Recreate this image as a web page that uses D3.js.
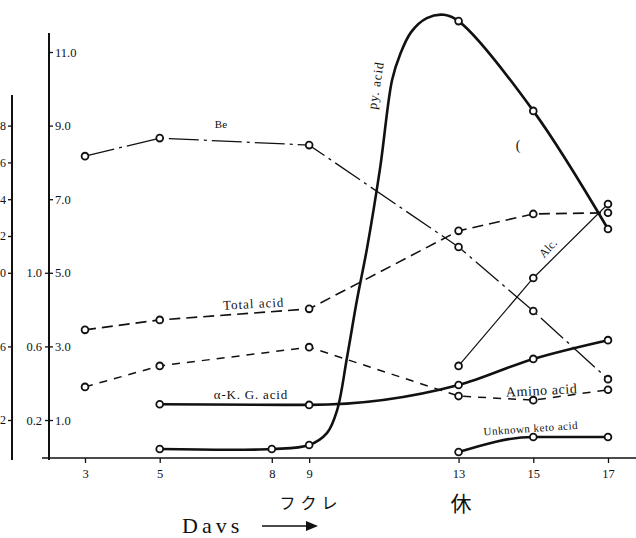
<!DOCTYPE html>
<html>
<head>
<meta charset="utf-8">
<script src="https://cdn.jsdelivr.net/npm/d3@7"></script>
<style>
  body { margin: 0; background: #fff; }
  svg { display: block; font-family: "Liberation Serif", "DejaVu Serif", serif; }
</style>
</head>
<body>
<svg id="chart" width="636" height="538"></svg>
<script>
// days sampled
var days = [3, 5, 8, 9, 13, 15, 17];

// values, in units of the right-hand (inner) scale
var beData = [[3, 8.17], [5, 8.66], [9, 8.47], [13, 5.70], [15, 3.96], [17, 2.11]];
var totalAcid = [[3, 3.45], [5, 3.72], [9, 4.02], [13, 6.14], [15, 6.60], [17, 6.63]];
var aminoAcid = [[3, 1.90], [5, 2.47], [9, 2.98], [13, 1.65], [15, 1.54], [17, 1.82]];
var akgAcid = [[5, 1.43], [9, 1.41], [13, 1.95], [15, 2.66], [17, 3.17]];
var pyrAcid = [[5, 0.21], [8, 0.21], [9, 0.32], [13, 11.84], [15, 9.40], [17, 6.19]];
// where the hand-drawn pyr. curve runs between day 9 and day 13 (no samples)
var pyrDrawn = [[9.48, 0.65], [9.75, 1.27], [10.01, 2.68], [10.28, 4.26], [10.55, 5.67],
  [10.9, 7.85], [11.22, 10.24], [11.43, 10.92], [11.73, 11.54], [12.15, 11.92], [12.61, 12.01]];
var alcData = [[13, 2.47], [15, 4.86], [17, 6.87]];
var unknownKeto = [[13, 0.13], [15, 0.54], [17, 0.54]];

// axis tick labels
var innerRightTicks = [1, 3, 5, 7, 9, 11];
var innerLeftTicks = [1.0, 0.6, 0.2];
var outerTicks = [1.8, 1.6, 1.4, 1.2, 1.0, 0.6, 0.2];

(function () {
  var svg = d3.select("#chart");
  var ink = "#111";

  var x = d3.scaleLinear().domain([3, 17]).range([85, 608]);
  var y = d3.scaleLinear().domain([1, 11]).range([420, 52]);
  var yLeft = d3.scaleLinear().domain([0.2, 2.2]).range([420, 52]);
  var baseY = 458;

  function styleAxis(g, size) {
    g.select(".domain").remove();
    g.selectAll("line").attr("stroke", ink).attr("stroke-width", 1.3);
    g.selectAll("text")
      .attr("fill", ink)
      .style("font-family", "Liberation Serif")
      .style("font-size", size + "px");
  }

  // outer axis (its labels run off the page edge, as in the scan)
  svg.append("line")
    .attr("x1", 12).attr("x2", 12).attr("y1", 95).attr("y2", baseY + 2)
    .attr("stroke", ink).attr("stroke-width", 2);
  svg.append("g")
    .attr("transform", "translate(12,0)")
    .call(d3.axisLeft(yLeft).tickValues(outerTicks).tickSize(4).tickPadding(2)
      .tickFormat(d3.format(".1f")))
    .call(styleAxis, 12);

  // inner axis
  svg.append("line")
    .attr("x1", 49).attr("x2", 49).attr("y1", 33).attr("y2", baseY + 2)
    .attr("stroke", ink).attr("stroke-width", 2);
  svg.append("g")
    .attr("transform", "translate(49,0)")
    .call(d3.axisRight(y).tickValues(innerRightTicks).tickSize(4).tickPadding(2)
      .tickFormat(d3.format(".1f")))
    .call(styleAxis, 12.5);
  svg.append("g")
    .attr("transform", "translate(49,0)")
    .call(d3.axisLeft(yLeft).tickValues(innerLeftTicks).tickSize(4).tickPadding(3)
      .tickFormat(d3.format(".1f")))
    .call(styleAxis, 12.5);

  // day axis
  svg.append("line")
    .attr("x1", 42).attr("x2", 636).attr("y1", baseY).attr("y2", baseY)
    .attr("stroke", ink).attr("stroke-width", 1.6);
  svg.append("g")
    .attr("transform", "translate(0," + baseY + ")")
    .call(d3.axisBottom(x).tickValues(days).tickSize(5).tickPadding(6)
      .tickFormat(d3.format("d")))
    .call(styleAxis, 12.5);

  // series
  var straight = d3.line().x(function (d) { return x(d[0]); }).y(function (d) { return y(d[1]); });
  var smooth = d3.line().curve(d3.curveMonotoneX)
    .x(function (d) { return x(d[0]); }).y(function (d) { return y(d[1]); });
  var drawn = d3.line().curve(d3.curveCatmullRom.alpha(0.5))
    .x(function (d) { return x(d[0]); }).y(function (d) { return y(d[1]); });

  var pyrPath = pyrAcid.concat(pyrDrawn).sort(function (a, b) { return a[0] - b[0]; });

  var series = [
    { data: beData, line: straight, width: 1.3, dash: "30,5,3,5" },
    { data: totalAcid, line: straight, width: 1.6, dash: "11,6" },
    { data: aminoAcid, line: straight, width: 1.5, dash: "8,7" },
    { data: alcData, line: straight, width: 1.2, dash: null },
    { data: akgAcid, line: smooth, width: 2.6, dash: null },
    { data: unknownKeto, line: smooth, width: 2.6, dash: null },
    { data: pyrAcid, path: pyrPath, line: drawn, width: 2.6, dash: null }
  ];

  series.forEach(function (s) {
    svg.append("path")
      .attr("d", s.line(s.path || s.data))
      .attr("fill", "none")
      .attr("stroke", ink)
      .attr("stroke-width", s.width)
      .attr("stroke-dasharray", s.dash);
  });

  series.forEach(function (s) {
    svg.append("g").selectAll("circle")
      .data(s.data)
      .join("circle")
      .attr("cx", function (d) { return x(d[0]); })
      .attr("cy", function (d) { return y(d[1]); })
      .attr("r", 3.4)
      .attr("fill", "#fff")
      .attr("stroke", ink)
      .attr("stroke-width", 1.8);
  });

  // series labels
  function label(text, d, v, size, rot, extra) {
    var t = svg.append("text")
      .attr("transform", "translate(" + x(d) + "," + y(v) + ") rotate(" + (rot || 0) + ")")
      .attr("text-anchor", "middle")
      .attr("fill", ink)
      .style("font-size", size + "px")
      .text(text);
    if (extra) t.style("letter-spacing", extra + "px");
    return t;
  }
  label("Be", 6.64, 8.93, 11, 0);
  label("Total acid", 7.52, 4.04, 13, -3, 1);
  label("\u03b1-K. G. acid", 7.44, 1.57, 13, 0, 0.8);
  label("Amino acid", 15.23, 1.68, 14, -3, 0.6);
  label("Unknown keto acid", 14.94, 0.67, 11, -4, 0.5);
  label("Alc.", 15.47, 5.59, 12, -47);
  label("py. acid", 10.9, 10.08, 13, -81, 1);
  label("(", 14.59, 8.34, 14, 0);

  // footer text
  svg.append("text")
    .attr("x", 311).attr("y", 509)
    .attr("text-anchor", "middle")
    .attr("fill", ink)
    .style("font-family", "Noto Sans CJK JP")
    .style("font-size", "16px")
    .style("letter-spacing", "5px")
    .text("フクレ");
  svg.append("text")
    .attr("x", 461).attr("y", 511)
    .attr("text-anchor", "middle")
    .attr("fill", ink)
    .style("font-family", "Noto Sans CJK JP")
    .style("font-size", "21px")
    .text("休");
  svg.append("text")
    .attr("x", 182).attr("y", 533)
    .attr("fill", ink)
    .style("font-size", "22px")
    .style("letter-spacing", "4px")
    .text("Davs");

  svg.append("line")
    .attr("x1", 262).attr("x2", 314).attr("y1", 526).attr("y2", 526)
    .attr("stroke", ink).attr("stroke-width", 1.6);
  svg.append("path")
    .attr("d", "M306,521 L318,526 L306,531 Z")
    .attr("fill", ink);
})();
</script>
</body>
</html>
